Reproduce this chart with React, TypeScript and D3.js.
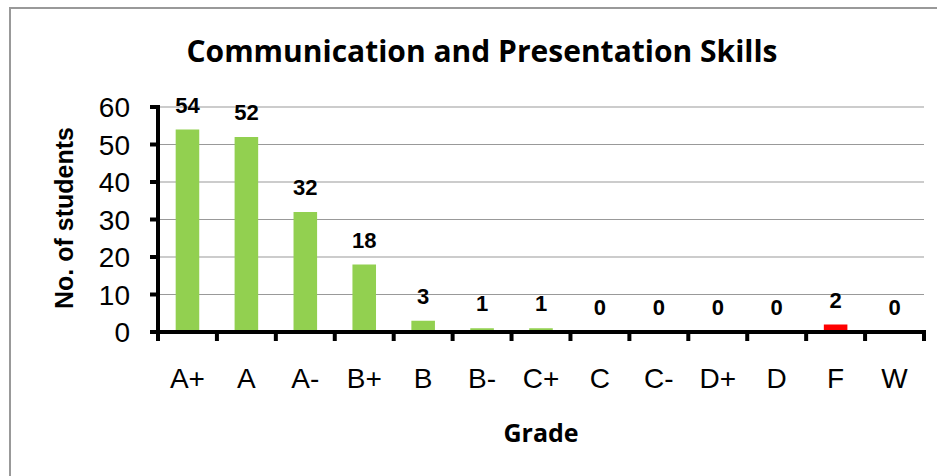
import { useEffect, useRef } from "react";
import * as d3 from "d3";

const grades = ["A+", "A", "A-", "B+", "B", "B-", "C+", "C", "C-", "D+", "D", "F", "W"];
const students = [54, 52, 32, 18, 3, 1, 1, 0, 0, 0, 0, 2, 0];
const barColors = ["#92d050", "#92d050", "#92d050", "#92d050", "#92d050", "#92d050", "#92d050", "#92d050", "#92d050", "#92d050", "#92d050", "#ff0000", "#92d050"];
const yTicks = [0, 10, 20, 30, 40, 50, 60];

export default function App() {
  const svgRef = useRef<SVGSVGElement>(null);

  useEffect(() => {
    if (!svgRef.current) return;
    const svg = d3.select(svgRef.current);
    svg.selectAll("*").remove();

    const left = 158;
    const right = 924;
    const top = 107;
    const bottom = 332;
    const arial = "Liberation Sans, Arial, sans-serif";
    const calibri = "Open Sans, Noto Sans, sans-serif";

    // ── Frame ────────────────────────────────────────────
    svg.append("rect")
      .attr("x", 10).attr("y", 8)
      .attr("width", 960).attr("height", 520)
      .attr("fill", "white")
      .attr("stroke", "#999")
      .attr("stroke-width", 2);

    const x = d3.scaleBand().domain(grades).range([left, right]).paddingInner(0.6).paddingOuter(0.3);
    const xEdges = d3.scaleLinear().domain([0, grades.length]).range([left, right]);
    const y = d3.scaleLinear().domain([0, 60]).range([bottom, top]);

    // ── Gridlines ────────────────────────────────────────
    yTicks.filter((t) => t > 0).forEach((t) => {
      svg.append("line")
        .attr("x1", left).attr("x2", right)
        .attr("y1", y(t)).attr("y2", y(t))
        .attr("stroke", "#999")
        .attr("stroke-width", 1.2);
    });

    // ── Bars + data labels ───────────────────────────────
    grades.forEach((g, i) => {
      const v = students[i];
      svg.append("rect")
        .attr("x", x(g)!)
        .attr("y", y(v))
        .attr("width", x.bandwidth())
        .attr("height", bottom - y(v))
        .attr("fill", barColors[i]);

      svg.append("text")
        .attr("x", x(g)! + x.bandwidth() / 2)
        .attr("y", y(v) - 17)
        .attr("text-anchor", "middle")
        .attr("font-family", arial)
        .attr("font-weight", "bold")
        .attr("font-size", 22)
        .attr("fill", "#000")
        .text(v);
    });

    // ── Y axis ───────────────────────────────────────────
    svg.append("line")
      .attr("x1", left).attr("x2", left)
      .attr("y1", top - 2).attr("y2", bottom + 2)
      .attr("stroke", "#000").attr("stroke-width", 4);

    yTicks.forEach((t) => {
      svg.append("line")
        .attr("x1", left - 8).attr("x2", left)
        .attr("y1", y(t)).attr("y2", y(t))
        .attr("stroke", "#000").attr("stroke-width", 4);
      svg.append("text")
        .attr("x", 130)
        .attr("y", y(t))
        .attr("dy", "0.36em")
        .attr("text-anchor", "end")
        .attr("font-family", arial)
        .attr("font-size", 28)
        .attr("fill", "#000")
        .text(t);
    });

    // ── X axis ───────────────────────────────────────────
    svg.append("line")
      .attr("x1", left - 2).attr("x2", right + 2)
      .attr("y1", bottom).attr("y2", bottom)
      .attr("stroke", "#000").attr("stroke-width", 4);

    d3.range(grades.length + 1).forEach((i) => {
      const xx = xEdges(i);
      svg.append("line")
        .attr("x1", xx).attr("x2", xx)
        .attr("y1", bottom).attr("y2", bottom + 9)
        .attr("stroke", "#000").attr("stroke-width", 4);
    });

    grades.forEach((g) => {
      svg.append("text")
        .attr("x", x(g)! + x.bandwidth() / 2)
        .attr("y", 388)
        .attr("text-anchor", "middle")
        .attr("font-family", arial)
        .attr("font-size", 28)
        .attr("fill", "#000")
        .text(g);
    });

    // ── Titles ───────────────────────────────────────────
    svg.append("text")
      .attr("x", 482)
      .attr("y", 62)
      .attr("text-anchor", "middle")
      .attr("font-family", calibri)
      .attr("font-weight", "bold")
      .attr("font-size", 30)
      .attr("fill", "#000")
      .text("Communication and Presentation Skills");

    svg.append("text")
      .attr("transform", "rotate(-90)")
      .attr("x", -218)
      .attr("y", 73)
      .attr("text-anchor", "middle")
      .attr("font-family", arial)
      .attr("font-weight", "bold")
      .attr("font-size", 25)
      .attr("fill", "#000")
      .text("No. of students");

    svg.append("text")
      .attr("x", 541)
      .attr("y", 442)
      .attr("text-anchor", "middle")
      .attr("font-family", calibri)
      .attr("font-weight", "bold")
      .attr("font-size", 25)
      .attr("fill", "#000")
      .text("Grade");
  }, []);

  return (
    <svg
      ref={svgRef}
      width={937}
      height={476}
      style={{ position: "absolute", left: 0, top: 0, background: "white" }}
    />
  );
}
